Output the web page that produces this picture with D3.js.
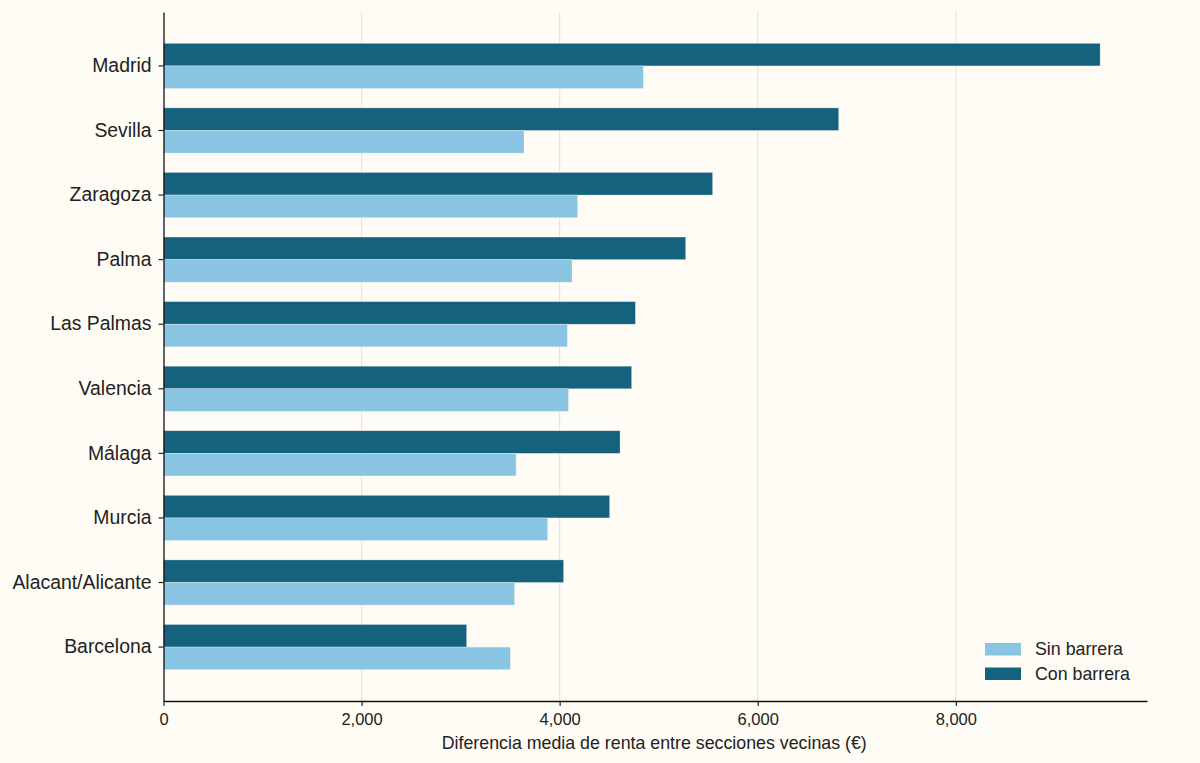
<!DOCTYPE html>
<html>
<head>
<meta charset="utf-8">
<script src="https://cdn.jsdelivr.net/npm/d3@7"></script>
<style>
  body { margin: 0; background: #fffcf5; }
  svg { display: block; }
  text { font-family: "Liberation Sans", Arial, sans-serif; fill: #222; }
</style>
</head>
<body>
<div id="chart"></div>
<script>
// data
var cities = ["Madrid", "Sevilla", "Zaragoza", "Palma", "Las Palmas", "Valencia",
              "Málaga", "Murcia", "Alacant/Alicante", "Barcelona"];
var conBarrera = [9458, 6818, 5545, 5273, 4765, 4727, 4610, 4505, 4040, 3061];
var sinBarrera = [4845, 3640, 4182, 4125, 4078, 4090, 3560, 3879, 3545, 3502];
var xTicks = [0, 2000, 4000, 6000, 8000];
var seriesNames = ["Sin barrera", "Con barrera"];
var seriesColors = ["#89c4e2", "#15627e"];

var width = 1200, height = 763;
var margin = {top: 12, right: 53, bottom: 62, left: 163.5};

var svg = d3.select("#chart")
  .append("svg")
    .attr("width", width)
    .attr("height", height);

svg.append("rect")
    .attr("width", width)
    .attr("height", height)
    .attr("fill", "#fffcf5");

var x = d3.scaleLinear()
  .domain([0, d3.max(conBarrera.concat(sinBarrera)) * 1.05])
  .range([margin.left, width - margin.right]);

var y = d3.scaleBand()
  .domain(cities)
  .range([margin.top, height - margin.bottom])
  .paddingInner(0.3)
  .paddingOuter(0.485);

var bh = y.bandwidth() / 2;

// grid lines
svg.append("g")
  .selectAll("line")
  .data(xTicks.slice(1))
  .enter()
  .append("line")
    .attr("x1", function (d) { return x(d); })
    .attr("x2", function (d) { return x(d); })
    .attr("y1", margin.top)
    .attr("y2", height - margin.bottom)
    .attr("stroke", "#e8e5df")
    .attr("stroke-width", 1.2);

// bars: Con barrera on top, Sin barrera below
var rows = cities.map(function (c, i) {
  return {city: c, con: conBarrera[i], sin: sinBarrera[i]};
});

svg.append("g")
  .selectAll("rect")
  .data(rows)
  .enter()
  .append("rect")
    .attr("x", x(0))
    .attr("y", function (d) { return y(d.city); })
    .attr("width", function (d) { return x(d.con) - x(0); })
    .attr("height", bh)
    .attr("fill", seriesColors[1])
    .attr("stroke", "#fffcf5")
    .attr("stroke-opacity", 0.5)
    .attr("stroke-width", 0.6);

svg.append("g")
  .selectAll("rect")
  .data(rows)
  .enter()
  .append("rect")
    .attr("x", x(0))
    .attr("y", function (d) { return y(d.city) + bh; })
    .attr("width", function (d) { return x(d.sin) - x(0); })
    .attr("height", bh)
    .attr("fill", seriesColors[0])
    .attr("stroke", "#fffcf5")
    .attr("stroke-opacity", 0.5)
    .attr("stroke-width", 0.6);

// X axis
var xAxis = svg.append("g")
  .attr("transform", "translate(0," + (height - margin.bottom) + ")")
  .call(d3.axisBottom(x).tickValues(xTicks).tickFormat(d3.format(",")).tickSize(5).tickSizeOuter(0));
xAxis.select(".domain").attr("stroke", "#111").attr("stroke-width", 1.3);
xAxis.selectAll(".tick line").attr("stroke", "#111").attr("stroke-width", 1.1);
xAxis.selectAll("text")
  .attr("font-size", 16.5)
  .attr("font-family", "Liberation Sans, Arial, sans-serif")
  .attr("fill", "#222")
  .attr("dy", "0.95em");

// Y axis
var yAxis = svg.append("g")
  .attr("transform", "translate(" + margin.left + ",0)")
  .call(d3.axisLeft(y).tickSize(5).tickSizeOuter(0).tickPadding(7));
yAxis.select(".domain").attr("stroke", "#111").attr("stroke-width", 1.3);
yAxis.selectAll(".tick line").attr("stroke", "#111").attr("stroke-width", 1.1);
yAxis.selectAll("text")
  .attr("font-size", 19.4)
  .attr("font-family", "Liberation Sans, Arial, sans-serif")
  .attr("fill", "#222");

// X axis label
svg.append("text")
  .attr("text-anchor", "middle")
  .attr("x", (margin.left + width - margin.right) / 2 - 1)
  .attr("y", 749)
  .attr("font-size", 17.8)
  .text("Diferencia media de renta entre secciones vecinas (€)");

// legend
var legend = svg.append("g")
  .attr("transform", "translate(985,643)");

legend.selectAll("rect")
  .data(seriesNames)
  .enter()
  .append("rect")
    .attr("x", 0)
    .attr("y", function (d, i) { return i * 24.5; })
    .attr("width", 36)
    .attr("height", 12.5)
    .attr("fill", function (d, i) { return seriesColors[i]; });

legend.selectAll("text")
  .data(seriesNames)
  .enter()
  .append("text")
    .attr("x", 50)
    .attr("y", function (d, i) { return i * 24.5 + 12; })
    .attr("font-size", 17.8)
    .text(function (d) { return d; });
</script>
</body>
</html>
